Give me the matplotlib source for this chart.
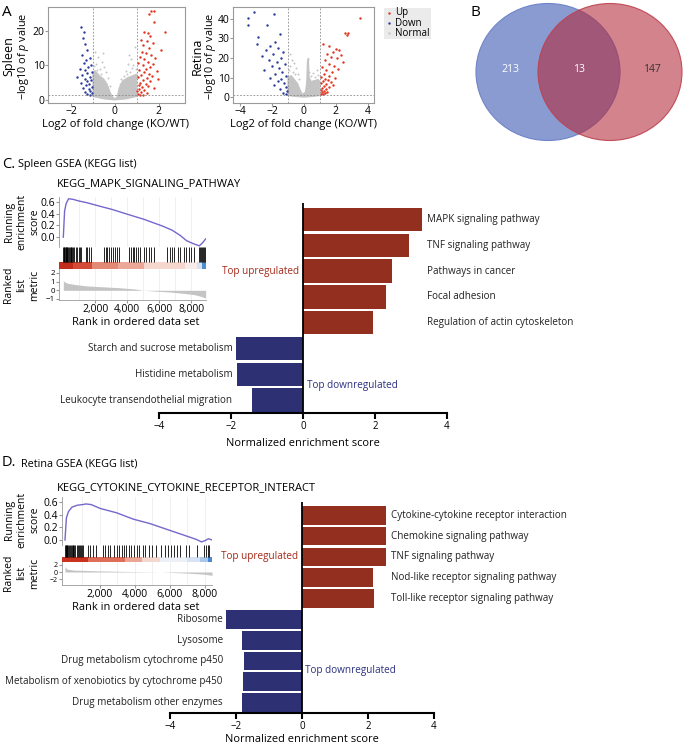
import numpy as np
import matplotlib
matplotlib.use('Agg')
import matplotlib.pyplot as plt
from matplotlib.patches import Ellipse, Rectangle

# ── Data ─────────────────────────────────────────────────────────────────────
# Volcano, spleen
spleen_up = [(1.67, 25.7), (1.77, 25.7), (1.58, 25.0), (1.80, 22.6), (2.30, 19.8), (1.35, 19.8),
             (1.50, 19.4), (1.62, 18.5), (1.20, 17.4), (1.45, 17.0), (1.72, 16.5), (1.30, 16.0),
             (1.55, 15.2), (2.10, 14.4), (1.25, 14.0), (1.40, 13.5), (1.65, 13.0), (1.15, 12.5),
             (1.85, 12.2), (1.35, 11.8), (1.50, 11.0), (1.05, 10.8), (1.75, 10.5), (1.28, 10.0),
             (1.60, 9.6), (1.42, 9.0), (1.12, 8.7), (1.90, 8.5), (1.33, 8.0), (1.55, 7.6),
             (1.20, 7.2), (1.70, 7.0), (1.05, 6.6), (1.45, 6.3), (1.95, 6.0), (1.30, 5.8),
             (1.62, 5.4), (1.15, 5.0), (1.40, 4.7), (1.08, 4.3), (1.52, 4.0), (1.25, 3.7),
             (1.80, 3.4), (1.10, 3.1), (1.35, 2.8), (1.02, 2.5), (1.20, 2.2), (1.48, 2.0),
             (1.06, 1.7), (1.15, 1.5), (1.30, 1.45)]
spleen_down = [(-1.56, 21.3), (-1.40, 19.8), (-1.45, 18.0), (-1.35, 16.2), (-1.25, 14.5),
               (-1.50, 13.0), (-1.15, 12.2), (-1.30, 11.5), (-1.42, 10.6), (-1.10, 10.0),
               (-1.22, 9.5), (-1.60, 9.0), (-1.35, 8.6), (-1.05, 8.2), (-1.28, 7.8), (-1.48, 7.2),
               (-1.15, 6.8), (-1.74, 6.6), (-1.38, 6.2), (-1.08, 5.8), (-1.25, 5.4), (-1.55, 5.0),
               (-1.18, 4.6), (-1.32, 4.2), (-1.04, 3.8), (-1.45, 3.5), (-1.20, 3.1), (-1.12, 2.7),
               (-1.36, 2.4), (-1.06, 2.0), (-1.26, 1.7), (-1.15, 1.5)]
spleen_gray = [(-0.90, 14.0), (-0.75, 12.5), (-0.60, 11.0), (-0.85, 10.5), (-0.50, 9.5),
               (-0.95, 9.8), (-0.70, 9.0), (-0.40, 8.0), (-0.30, 6.5), (0.90, 15.5), (0.75, 12.0),
               (0.60, 10.5), (0.85, 10.0), (0.50, 8.5), (0.95, 9.0), (0.70, 8.0), (0.40, 7.0),
               (0.30, 6.0), (-0.55, 13.5), (0.65, 13.0), (-0.80, 8.8), (0.80, 9.2), (-0.65, 7.6),
               (0.55, 7.4), (-0.20, 4.0), (0.25, 4.5)]
spleen_core = [(-1.0, 1.0), (-1.0, 8.0), (-0.9, 8.5), (-0.7, 7.0), (-0.5, 6.0), (-0.35, 4.5),
               (-0.2, 2.0), (-0.1, 0.8), (0.0, 0.3), (0.1, 0.8), (0.2, 3.5), (0.35, 5.5),
               (0.6, 6.5), (0.8, 7.0), (1.0, 7.5), (1.0, 1.0), (0.5, 0.3), (0.0, 0.0),
               (-0.5, 0.3)]

# Volcano, retina
retina_up = [(3.50, 40.3), (2.58, 32.8), (2.75, 32.5), (2.68, 31.5), (1.21, 27.0), (1.60, 26.2),
             (2.00, 24.5), (2.20, 23.8), (1.85, 23.0), (1.45, 22.0), (2.30, 21.5), (1.70, 20.5),
             (2.05, 19.8), (1.30, 19.0), (2.45, 18.0), (1.55, 17.0), (1.90, 16.0), (1.15, 15.5),
             (2.15, 14.5), (1.40, 14.0), (1.75, 13.0), (1.25, 12.0), (1.60, 11.0), (1.05, 10.5),
             (1.95, 10.0), (1.35, 9.5), (1.50, 8.5), (1.20, 8.0), (1.70, 7.5), (1.10, 7.0),
             (1.40, 6.5), (1.85, 6.0), (1.28, 5.5), (1.55, 5.0), (1.15, 4.5), (1.38, 4.0),
             (1.05, 3.5), (1.25, 3.0), (1.48, 2.8), (1.12, 2.4), (1.32, 2.0), (1.08, 1.6),
             (1.20, 1.4)]
retina_down = [(-3.12, 43.7), (-1.87, 42.5), (-3.48, 40.3), (-3.48, 37.0), (-2.30, 37.0),
               (-1.50, 32.3), (-2.87, 30.8), (-2.94, 27.3), (-1.80, 28.0), (-2.10, 26.0),
               (-1.60, 25.0), (-2.40, 24.0), (-1.30, 23.0), (-1.95, 22.0), (-2.65, 21.0),
               (-1.45, 20.0), (-2.20, 19.0), (-1.70, 18.0), (-1.20, 17.0), (-2.00, 16.0),
               (-1.55, 15.0), (-2.50, 14.0), (-1.35, 13.0), (-1.80, 12.0), (-1.10, 11.0),
               (-2.15, 10.0), (-1.45, 9.0), (-1.65, 8.0), (-1.25, 7.0), (-1.90, 6.0),
               (-1.15, 5.0), (-1.50, 4.0), (-1.05, 3.0), (-1.30, 2.0), (-1.12, 1.5)]
retina_gray = [(-0.90, 22.0), (-0.75, 19.0), (-0.60, 17.5), (-0.85, 16.0), (-0.50, 15.0),
               (-0.95, 14.0), (-0.70, 13.0), (-0.40, 12.0), (0.25, 19.5), (0.80, 14.0),
               (0.60, 12.5), (0.90, 11.5), (0.45, 11.0), (-0.30, 9.0), (0.70, 10.5),
               (-0.55, 12.0), (0.35, 13.0)]
retina_core = [(-1.0, 0.8), (-1.0, 10.0), (-0.8, 11.0), (-0.6, 9.0), (-0.4, 7.0), (-0.25, 4.0),
               (-0.1, 1.5), (0.1, 2.5), (0.18, 8.0), (0.22, 18.0), (0.28, 20.0), (0.33, 10.0),
               (0.45, 8.0), (0.7, 8.5), (0.9, 9.0), (1.0, 8.0), (1.0, 0.8), (0.5, 0.3),
               (0.0, 0.0), (-0.5, 0.3)]
legend_labels = ['Up', 'Down', 'Normal']

# Venn
venn_counts = ['213', '13', '147']

# GSEA spleen (KEGG_MAPK_SIGNALING_PATHWAY)
sp_es_rank = [0, 80, 180, 330, 600, 1000, 1500, 2300, 3000, 3700, 4400, 5000, 5600, 6200,
              6800, 7300, 7700, 8100, 8500, 8700, 8900]
sp_es = [0.0, 0.45, 0.58, 0.66, 0.65, 0.62, 0.59, 0.53, 0.48, 0.42, 0.36, 0.31, 0.25, 0.19,
         0.12, 0.03, -0.06, -0.11, -0.15, -0.10, -0.03]
sp_hits = [10, 40, 70, 100, 140, 180, 220, 260, 300, 350, 400, 450, 500, 560, 620, 680,
           800, 880, 950, 1020, 1100, 1400, 1500, 1600, 1750, 2550, 2650, 2750, 2850, 2950,
           3100, 3250, 3350, 3500, 4100, 4250, 4350, 4450, 4550, 4650, 4800, 5050, 5200,
           5350, 5500, 5700, 6500, 6650, 6800, 6950, 7200, 7300, 7550, 7700, 7850, 8000,
           8150, 8480, 8550, 8620, 8680, 8740, 8800, 8860]
sp_block_edges = [-270, 600, 1790, 3400, 5020, 7620, 8350, 8660, 8920]
sp_block_colors = ['#c22e1c', '#d24c38', '#e38a76', '#eba898', '#f5d7cd', '#f7ecea',
                   '#d6e2f2', '#4f8ed0']
sp_met_rank = [0, 100, 300, 800, 1500, 2500, 3500, 4500, 5000, 5800, 6700, 7500, 8200,
               8600, 8900]
sp_met = [1.1, 0.95, 0.8, 0.65, 0.5, 0.4, 0.3, 0.15, 0.0, -0.1, -0.2, -0.35, -0.5, -0.7, -0.9]

# GSEA retina (KEGG_CYTOKINE_CYTOKINE_RECEPTOR_INTERACT)
rt_es_rank = [0, 80, 200, 400, 700, 1000, 1200, 1500, 2000, 2950, 3900, 4850, 5800, 6760,
              7500, 7800, 8000, 8200, 8400]
rt_es = [0.0, 0.35, 0.45, 0.52, 0.55, 0.56, 0.57, 0.56, 0.50, 0.43, 0.33, 0.26, 0.17, 0.08,
         0.01, -0.03, -0.01, 0.02, 0.0]
rt_hits = [0, 30, 60, 100, 140, 180, 230, 280, 330, 380, 430, 480, 540, 600, 660, 720, 780,
           850, 920, 990, 1050, 1300, 1450, 1600, 1800, 2150, 2300, 2450, 2600, 2800, 2950,
           3100, 3250, 3400, 3500, 3650, 3800, 3950, 4100, 4250, 4450, 4600, 4800, 5000,
           5200, 5500, 5700, 5900, 6050, 6250, 6400, 6600, 6900, 7100, 7530, 7950, 8050,
           8150, 8250]
rt_block_edges = [-171, 1336, 3432, 4384, 5432, 6956, 7718, 8194, 8400]
rt_block_colors = ['#c8321f', '#df6e58', '#eba594', '#f4d8cf', '#eef0f7', '#d7e3f3',
                   '#a9c7ea', '#4c8ad0']
rt_met_rank = [0, 100, 500, 2000, 4000, 5500, 7000, 8000, 8400]
rt_met = [1.5, 0.8, 0.5, 0.3, 0.1, 0.0, -0.3, -0.6, -0.9]

# NES bar charts
sp_up_names = ['MAPK signaling pathway', 'TNF signaling pathway', 'Pathways in cancer',
               'Focal adhesion', 'Regulation of actin cytoskeleton']
sp_up_nes = [3.30, 2.95, 2.48, 2.30, 1.95]
sp_down_names = ['Starch and sucrose metabolism', 'Histidine metabolism',
                 'Leukocyte transendothelial migration']
sp_down_nes = [-1.86, -1.83, -1.42]

rt_up_names = ['Cytokine-cytokine receptor interaction', 'Chemokine signaling pathway',
               'TNF signaling pathway', 'Nod-like receptor signaling pathway',
               'Toll-like receptor signaling pathway']
rt_up_nes = [2.55, 2.56, 2.55, 2.14, 2.18]
rt_down_names = ['Ribosome', 'Lysosome', 'Drug metabolism cytochrome p450',
                 'Metabolism of xenobiotics by cytochrome p450',
                 'Drug metabolism other enzymes']
rt_down_nes = [-2.30, -1.82, -1.76, -1.78, -1.82]

# ── Style ────────────────────────────────────────────────────────────────────
plt.rcParams['font.family'] = ['Open Sans', 'DejaVu Sans']
plt.rcParams['mathtext.fontset'] = 'custom'
plt.rcParams['mathtext.rm'] = 'Open Sans'
plt.rcParams['mathtext.it'] = 'Open Sans:italic'

RED, BLUE, GRAY = '#e2321b', '#2a3a9a', '#c4c4c4'
BAR_RED, BAR_BLUE = '#922f1f', '#2d3173'
ES_COL = '#7468cc'

W, H = 683, 744
fig = plt.figure(figsize=(W / 100, H / 100), dpi=100)


def px_axes(l, t, r, b):
    return fig.add_axes([l / W, 1 - b / H, (r - l) / W, (b - t) / H])


def ftext(x, y, s, **kw):
    fig.text(x / W, 1 - y / H, s, **kw)


# ═══ NES bar charts (drawn first so the GSEA panels sit on top) ═════════════
def nes_bars(box, up_names, up_nes, down_names, down_nes, ylim, xlabel_y):
    ax = px_axes(*box)
    ax.patch.set_visible(False)
    names = up_names + down_names
    vals = up_nes + down_nes
    pos = -np.arange(len(names))
    cols = [BAR_RED if v > 0 else BAR_BLUE for v in vals]
    ax.barh(pos, vals, height=0.9, color=cols, lw=0)
    ax.axvline(0, color='black', lw=1.3)
    x_up = max(up_nes) + 0.15
    x_dn = min(down_nes) - 0.1
    for p, n, v in zip(pos, names, vals):
        if v > 0:
            ax.text(x_up, p, n, fontsize=7.1, ha='left', va='center', color='#222222',
                    clip_on=False)
        else:
            ax.text(x_dn, p, n, fontsize=7.1, ha='right', va='center', color='#222222',
                    clip_on=False)
    n_up = len(up_names)
    ax.text(-0.12, np.mean(pos[:n_up]), 'Top upregulated', fontsize=7.2, color='#a52a1a',
            ha='right', va='center')
    ax.text(0.1, np.mean(pos[n_up:]) - 0.45, 'Top downregulated', fontsize=7.2,
            color='#2d3180', ha='left', va='center')
    ax.set_xlim(-4, 4)
    ax.set_ylim(ylim)
    ax.set_xticks([-4, -2, 0, 2, 4])
    ax.set_yticks([])
    for k in ('top', 'right', 'left'):
        ax.spines[k].set_visible(False)
    ax.spines['bottom'].set_linewidth(1.5)
    ax.tick_params(axis='x', labelsize=7, length=4, width=1.5, pad=2)
    ftext((box[0] + box[2]) / 2, xlabel_y, 'Normalized enrichment score', fontsize=7.9,
          ha='center', va='center')
    return ax


nes_bars((159, 203, 447, 413), sp_up_names, sp_up_nes, sp_down_names, sp_down_nes,
         (-7.5, 0.64), 443)
nes_bars((170, 502, 434, 713), rt_up_names, rt_up_nes, rt_down_names, rt_down_nes,
         (-9.5, 0.64), 739)


# ═══ A: volcano plots ═══════════════════════════════════════════════════════
def volcano(box, up, down, gray, core, xlim, ylim, xticks, yticks):
    ax = px_axes(*box)
    cx, cy = zip(*core)
    ax.fill(cx, cy, color=GRAY, lw=0.8, ec=GRAY)
    gx, gy = zip(*gray)
    ax.scatter(gx, gy, s=2, color=GRAY, lw=0)
    ux, uy = zip(*up)
    ax.scatter(ux, uy, s=3, color=RED, lw=0)
    dx, dy = zip(*down)
    ax.scatter(dx, dy, s=3, color=BLUE, lw=0)
    for v in (-1, 1):
        ax.axvline(v, color='#888888', lw=0.6, ls=(0, (2, 2)))
    ax.axhline(-np.log10(0.05), color='#888888', lw=0.6, ls=(0, (2, 2)))
    ax.set_xlim(xlim)
    ax.set_ylim(ylim)
    ax.set_xticks(xticks)
    ax.set_yticks(yticks)
    for s in ax.spines.values():
        s.set_color('#9a9a9a')
        s.set_linewidth(0.8)
    ax.tick_params(labelsize=7.5, length=2, color='#9a9a9a', pad=0.5)
    return ax


axA1 = volcano((48, 7, 185, 103), spleen_up, spleen_down, spleen_gray, spleen_core,
               (-3.05, 3.2), (-0.9, 27), [-2, 0, 2], [0, 10, 20])
axA2 = volcano((233, 7, 374, 103), retina_up, retina_down, retina_gray, retina_core,
               (-4.45, 4.4), (-3, 46), [-4, -2, 0, 2, 4], [0, 10, 20, 30, 40])
for cx in (116, 304):
    ftext(cx, 124, 'Log2 of fold change (KO/WT)', fontsize=8, ha='center', va='center')
ftext(9, 56, 'Spleen', fontsize=9, rotation=90, ha='center', va='center')
ftext(24, 56, r'$-$log10 of $\it{p}$ value', fontsize=7.8, rotation=90, ha='center',
      va='center')
ftext(197, 56, 'Retina', fontsize=9, rotation=90, ha='center', va='center')
ftext(210, 56, r'$-$log10 of $\it{p}$ value', fontsize=7.8, rotation=90, ha='center',
      va='center')

axL = px_axes(384, 8, 431, 39)
axL.set_facecolor('#ebebeb')
for s in axL.spines.values():
    s.set_visible(False)
axL.set_xticks([])
axL.set_yticks([])
axL.set_xlim(384, 431)
axL.set_ylim(39, 8)
for lab, col, yy in zip(legend_labels, [RED, BLUE, GRAY], [13, 23, 33]):
    axL.scatter([389], [yy], s=3, color=col, lw=0)
    axL.text(395, yy, lab, fontsize=7, va='center', ha='left')

ftext(2, 12, 'A', fontsize=11, va='center')
ftext(470, 12, 'B', fontsize=11, va='center')

# ═══ B: Venn ════════════════════════════════════════════════════════════════
axB = px_axes(470, 0, 683, 145)
axB.set_xlim(470, 683)
axB.set_ylim(145, 0)
axB.axis('off')
axB.add_patch(Ellipse((548, 72), 144, 137, facecolor='#8a9bd2', edgecolor='#6f84c8', lw=0.8))
axB.add_patch(Ellipse((610, 72), 144, 137, facecolor=(0.70, 0.16, 0.22, 0.58),
                      edgecolor=(0.75, 0.25, 0.3, 0.9), lw=0.8))
for s, x, c in zip(venn_counts, [510, 579, 652], ['white', 'white', '#333333']):
    axB.text(x, 70, s, fontsize=7.5, color=c, ha='center', va='center')


# ═══ GSEA enrichment plots ═════════════════════════════════════════════════
def gsea(l, r, t_run, b_run, b_code, b_col, b_met, xlim, es_r, es, hits, edges, colors,
         met_r, met, es_ylim, met_ylim, met_ticks, met_fs, xticks):
    axr = px_axes(l, t_run, r, b_run)
    axr.plot(es_r, es, color=ES_COL, lw=1)
    axr.set_xlim(xlim)
    axr.set_ylim(es_ylim)
    axr.set_yticks([0.0, 0.2, 0.4, 0.6])
    axr.set_yticklabels(['0.0', '0.2', '0.4', '0.6'])
    axr.set_xticks(xticks)
    axr.tick_params(axis='x', length=0, labelbottom=False)
    axr.tick_params(axis='y', labelsize=7.5, length=2, pad=1, color='#999999')
    for k in ('top', 'right', 'bottom'):
        axr.spines[k].set_visible(False)
    axr.spines['left'].set_color('#999999')
    axr.spines['left'].set_linewidth(0.6)
    for xv in range(1000, int(xlim[1]), 1000):
        axr.axvline(xv, color='#eeeeee', lw=0.6, zorder=0)

    axc = px_axes(l, b_run, r, b_col)
    axc.set_xlim(xlim)
    axc.set_ylim(b_col - b_run, 0)
    axc.vlines(hits, 0, b_code - b_run, color='black', lw=0.6)
    for x0, x1, c in zip(edges[:-1], edges[1:], colors):
        axc.add_patch(Rectangle((x0, b_code - b_run), x1 - x0, b_col - b_code,
                                facecolor=c, lw=0))
    axc.axis('off')

    axm = px_axes(l, b_col, r, b_met)
    axm.fill_between(met_r, met, 0, color='#c4c4c4', lw=0)
    axm.set_xlim(xlim)
    axm.set_ylim(met_ylim)
    axm.set_yticks(met_ticks)
    axm.set_xticks(xticks)
    axm.set_xticklabels([f'{v:,}' for v in xticks])
    axm.tick_params(axis='x', labelsize=7.5, length=2, pad=1, color='#999999')
    axm.tick_params(axis='y', labelsize=met_fs, length=2, pad=1, color='#999999')
    for k in ('top', 'right'):
        axm.spines[k].set_visible(False)
    for k in ('left', 'bottom'):
        axm.spines[k].set_color('#999999')
        axm.spines[k].set_linewidth(0.6)
    for xv in range(1000, int(xlim[1]), 1000):
        axm.axvline(xv, color='#eeeeee', lw=0.6, zorder=0)
    return axr, axm


gsea(59, 206, 197, 247, 262, 269, 300, (-270, 8920), sp_es_rank, sp_es, sp_hits,
     sp_block_edges, sp_block_colors, sp_met_rank, sp_met, (-0.17, 0.69), (-1.12, 2.46),
     [-1, 0, 1, 2], 5.8, [2000, 4000, 6000, 8000])
gsea(62, 212, 497, 545, 557, 562, 585, (-171, 8400), rt_es_rank, rt_es, rt_hits,
     rt_block_edges, rt_block_colors, rt_met_rank, rt_met, (-0.079, 0.68), (-3.47, 2.67),
     [-2, 0, 2], 5.0, [2000, 4000, 6000, 8000])

for y_run, y_met, y_rank in ((222, 285, 323), (520, 573, 607)):
    ftext(22, y_run, 'Running\nenrichment\nscore', fontsize=7.5, rotation=90,
          ha='center', va='center', linespacing=1.25, multialignment='center')
    ftext(22, y_met, 'Ranked\nlist\nmetric', fontsize=7.5, rotation=90,
          ha='center', va='center', linespacing=1.25, multialignment='center')
    ftext(136, y_rank, 'Rank in ordered data set', fontsize=7.9, ha='center', va='center')

ftext(57, 184, 'KEGG_MAPK_SIGNALING_PATHWAY', fontsize=8, ha='left', va='center')
ftext(57, 488, 'KEGG_CYTOKINE_CYTOKINE_RECEPTOR_INTERACT', fontsize=8, ha='left', va='center')

ftext(2, 164, 'C.', fontsize=10.5, va='center')
ftext(18, 165, 'Spleen GSEA (KEGG list)', fontsize=7.8, va='center')
ftext(2, 463, 'D.', fontsize=10.5, va='center')
ftext(21, 464, 'Retina GSEA (KEGG list)', fontsize=7.8, va='center')

fig.savefig('out.png', dpi=100)
